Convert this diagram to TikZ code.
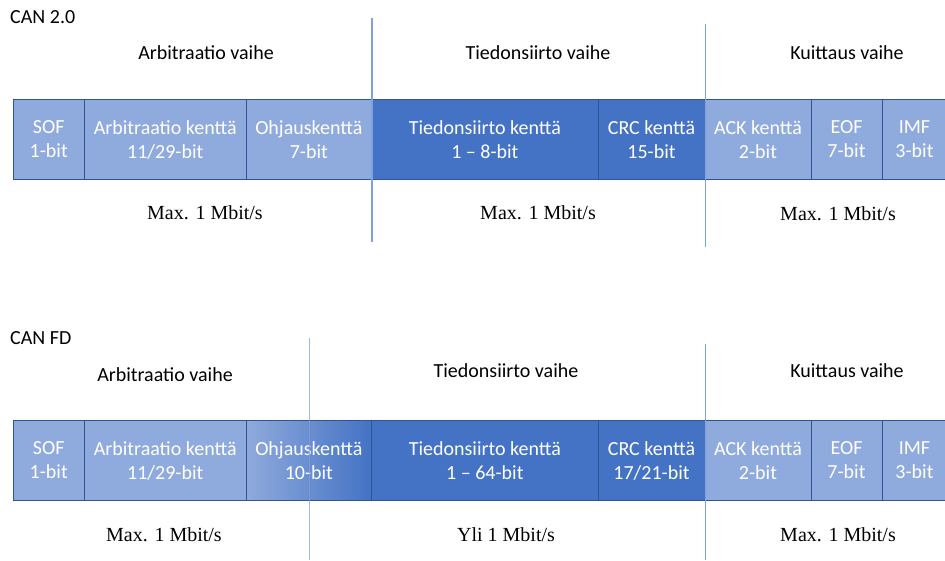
\documentclass[tikz,border=0pt]{standalone}
\usepackage{fontspec}
\setmainfont{Carlito}
\newfontfamily\ratefont{Liberation Serif}
\definecolor{fieldlight}{HTML}{8FAADC}
\definecolor{fielddark}{HTML}{4472C4}
\definecolor{fieldedge}{HTML}{2F5597}
\definecolor{phaseline}{HTML}{7FA1DC}
\begin{document}
\begin{tikzpicture}[x=1pt,y=-1pt,
  field/.style={draw=fieldedge, line width=0.8pt, anchor=north west,
    minimum height=80pt, inner sep=0pt, outer sep=0pt,
    text=white, align=center, font=\fontsize{20}{24}\selectfont},
  lightfield/.style={field, fill=fieldlight},
  darkfield/.style={field, fill=fielddark},
  phase/.style={font=\fontsize{20}{24}\selectfont, inner sep=0pt},
  rate/.style={font=\ratefont\fontsize{20}{24}\selectfont, inner sep=0pt},
  title/.style={font=\fontsize{20}{24}\selectfont, inner sep=0pt, anchor=west},
  sep/.style={draw=phaseline, line width=1.3pt}]
\useasboundingbox (0,0) rectangle (945,560);
\clip (0,0) rectangle (945,560);

% ---------------- CAN 2.0 frame ----------------
\node[title] (t1) at (10,17) {CAN 2.0};

\node[phase] (p1a) at (206,53) {Arbitraatio vaihe};
\node[phase] (p1b) at (538,53) {Tiedonsiirto vaihe};
\node[phase] (p1c) at (847,53) {Kuittaus vaihe};

\node[lightfield, minimum width=71.5pt]  (a1) at (13,99.5)    {SOF\\1-bit};
\node[lightfield, minimum width=161.5pt] (b1) at (84.5,99.5)  {Arbitraatio kenttä\\11/29-bit};
\node[lightfield, minimum width=125.7pt] (c1) at (246,99.5)   {Ohjauskenttä\\7-bit};
\node[darkfield,  minimum width=226.3pt] (d1) at (371.7,99.5) {Tiedonsiirto kenttä\\1 – 8-bit};
\node[darkfield,  minimum width=107pt]   (e1) at (598,99.5)   {CRC kenttä\\15-bit};
\node[lightfield, minimum width=106pt]   (f1) at (705,99.5)   {ACK kenttä\\2-bit};
\node[lightfield, minimum width=71pt]    (g1) at (811,99.5)   {EOF\\7-bit};
\node[lightfield, minimum width=65pt]    (h1) at (882,99.5)   {IMF\\3-bit};

\node[rate] (r1a) at (205,213) {Max. 1 Mbit/s};
\node[rate] (r1b) at (538,213) {Max. 1 Mbit/s};
\node[rate] (r1c) at (838,214) {Max. 1 Mbit/s};

\coordinate (s1at) at (372,18);
\coordinate (s1ab) at (372,242);
\coordinate (s1bt) at (705.5,24);
\coordinate (s1bb) at (705.5,247);
\draw[sep] (s1at) -- (s1ab);
\draw[sep] (s1bt) -- (s1bb);

% ---------------- CAN FD frame ----------------
\node[title] (t2) at (10,338) {CAN FD};

\node[phase] (p2a) at (165,375) {Arbitraatio vaihe};
\node[phase] (p2b) at (506,371) {Tiedonsiirto vaihe};
\node[phase] (p2c) at (847,371) {Kuittaus vaihe};

\node[lightfield, minimum width=71.5pt]  (a2) at (13,420.5)    {SOF\\1-bit};
\node[lightfield, minimum width=161.5pt] (b2) at (84.5,420.5)  {Arbitraatio kenttä\\11/29-bit};
\node[field, left color=fieldlight, right color=fielddark,
      minimum width=125.7pt]             (c2) at (246,420.5)   {Ohjauskenttä\\10-bit};
\node[darkfield,  minimum width=226.3pt] (d2) at (371.7,420.5) {Tiedonsiirto kenttä\\1 – 64-bit};
\node[darkfield,  minimum width=107pt]   (e2) at (598,420.5)   {CRC kenttä\\17/21-bit};
\node[lightfield, minimum width=106pt]   (f2) at (705,420.5)   {ACK kenttä\\2-bit};
\node[lightfield, minimum width=71pt]    (g2) at (811,420.5)   {EOF\\7-bit};
\node[lightfield, minimum width=65pt]    (h2) at (882,420.5)   {IMF\\3-bit};

\node[rate] (r2a) at (164,535) {Max. 1 Mbit/s};
\node[rate] (r2b) at (506,535) {Yli 1 Mbit/s};
\node[rate] (r2c) at (838,535) {Max. 1 Mbit/s};

\coordinate (s2at) at (309.5,338);
\coordinate (s2ab) at (309.5,560);
\coordinate (s2bt) at (705.5,344);
\coordinate (s2bb) at (705.5,560);
\draw[sep, draw opacity=0.75] (s2at) -- (s2ab);
\draw[sep] (s2bt) -- (s2bb);
\end{tikzpicture}
\end{document}
